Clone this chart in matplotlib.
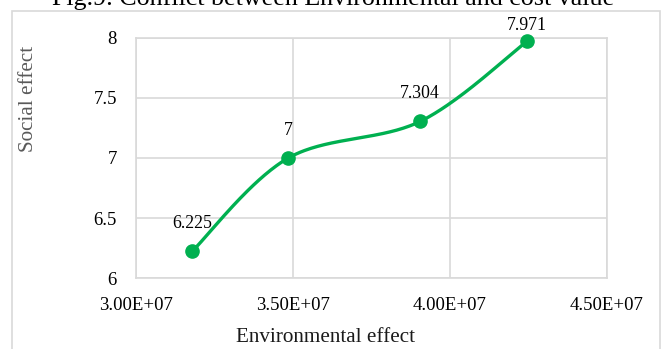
import numpy as np
from matplotlib import pyplot as plt
from matplotlib.patches import Rectangle

plt.rcParams['font.family'] = ['Liberation Serif', 'DejaVu Serif']

# environmental effect vs social effect
env_effect = [3.18e7, 3.486e7, 3.906e7, 4.246e7]
social_effect = [6.225, 7, 7.304, 7.971]
point_labels = ['6.225', '7', '7.304', '7.971']

x_ticks = [3.0e7, 3.5e7, 4.0e7, 4.5e7]
y_ticks = [6, 6.5, 7, 7.5, 8]

green = '#00b050'
gray = '#d9d9d9'


def smooth_curve(x, y, xr, yr, n=60):
    # catmull-rom style bezier, done in axis-normalised space
    px = (np.asarray(x) - xr[0]) / (xr[1] - xr[0])
    py = (np.asarray(y) - yr[0]) / (yr[1] - yr[0])
    P = np.column_stack([px, py])
    P = np.vstack([P[0], P, P[-1]])
    out = []
    t = np.linspace(0, 1, n)[:, None]
    for i in range(1, len(P) - 2):
        p0, p1, p2, p3 = P[i - 1], P[i], P[i + 1], P[i + 2]
        c1 = p1 + (p2 - p0) / 6
        c2 = p2 - (p3 - p1) / 6
        seg = ((1 - t) ** 3) * p1 + 3 * ((1 - t) ** 2) * t * c1 + 3 * (1 - t) * t ** 2 * c2 + t ** 3 * p2
        out.append(seg)
    out = np.vstack(out)
    return out[:, 0] * (xr[1] - xr[0]) + xr[0], out[:, 1] * (yr[1] - yr[0]) + yr[0]


fig = plt.figure(figsize=(6.66, 3.49), dpi=100)
ax = fig.add_axes([0.2038, 0.2026, 0.7072, 0.6894])

xr = (3.0e7, 4.5e7)
yr = (6, 8)
sx, sy = smooth_curve(env_effect, social_effect, xr, yr)
ax.plot(sx, sy, color=green, lw=2.4, solid_capstyle='round', zorder=3)
ax.plot(env_effect, social_effect, 'o', color=green, ms=9.5, zorder=4, clip_on=False)

# last label sits lower so it stays inside the frame
label_offsets = [20, 20, 20, 11]
for xv, yv, lab, dy in zip(env_effect, social_effect, point_labels, label_offsets):
    ax.annotate(lab, (xv, yv), xytext=(0, dy), textcoords='offset points',
                ha='center', va='center', fontsize=12.8, color='#000000')

ax.set_xlim(*xr)
ax.set_ylim(*yr)
ax.set_xticks(x_ticks)
ax.set_xticklabels(['%.2fE+%02d' % (v / 1e7, 7) for v in x_ticks])
ax.set_yticks(y_ticks)
ax.set_yticklabels(['%g' % v for v in y_ticks])
ax.tick_params(length=0, labelsize=13.5, colors='#000000')
ax.tick_params(axis='x', pad=13.5)
ax.tick_params(axis='y', pad=13.5)
ax.grid(True, color=gray, lw=1.2)
ax.set_axisbelow(True)
for s in ax.spines.values():
    s.set_color(gray)
    s.set_linewidth(1.2)

fig.text(325 / 666, 1 - 338 / 349, 'Environmental effect', ha='center', va='center',
         fontsize=15.2, color='#1a1a1a')
fig.text(29 / 666, 1 - 99 / 349, 'Social effect', ha='center', va='center', rotation=90,
         fontsize=15.2, color='#595959')
fig.text(0.5, 1 - 5 / 349, 'Fig.9. Conflict between Environmental and cost value',
         ha='center', va='baseline', fontsize=18.7)

# chart frame
fig.patches.append(Rectangle((12 / 666, -0.05), (660 - 12) / 666, 1.05 - 11 / 349,
                             transform=fig.transFigure, fill=False, ec=gray, lw=1.2))

fig.savefig('out.png', dpi=100)
